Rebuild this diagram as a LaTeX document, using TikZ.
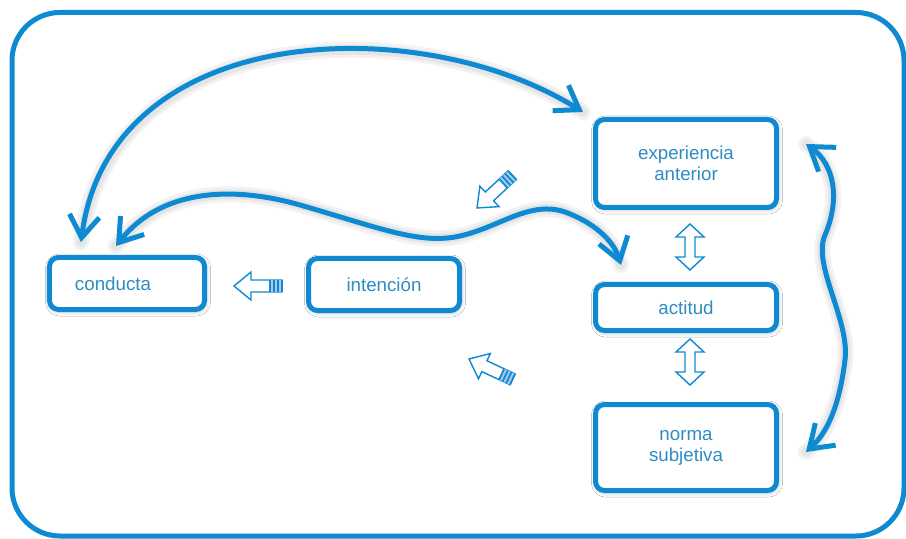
\documentclass[tikz,border=0pt]{standalone}
\usepackage{fontspec}
\setmainfont{Liberation Sans}
\usetikzlibrary{arrows.meta,shadows.blur}

\definecolor{lineblue}{RGB}{14,138,210}
\definecolor{textblue}{RGB}{46,140,196}
\definecolor{tailfill}{RGB}{172,200,236}

\tikzset{
  box/.style={draw=lineblue, line width=5bp, rounded corners=9bp, fill=white,
    inner sep=0pt, font=\fontsize{18.8}{21}\selectfont, text=textblue,
    blur shadow={shadow xshift=1bp, shadow yshift=-1.5bp,
      shadow blur radius=5bp, shadow opacity=30}},
  link/.style={draw=lineblue, line width=5bp,
    {Straight Barb[length=22bp,width=30bp]}-{Straight Barb[length=22bp,width=30bp]}},
  halo/.style={draw=black, opacity=0.05, line width=#1, line cap=round},
  frame/.style={draw=lineblue, line width=5bp, rounded corners=48bp},
  hollowline/.style={draw=lineblue, line width=1.4bp, line join=miter},
  pics/hollow/.style={code={
    \draw[hollowline, fill=white] (0,0) -- (-17,14) -- (-17,6) -- (-48,6)
      -- (-48,-6) -- (-17,-6) -- (-17,-14) -- cycle;
    \fill[tailfill] (-48,-6) rectangle (-36,6);
    \draw[lineblue, line width=1.8bp] (-36,-6) -- (-36,6) (-40,-6) -- (-40,6)
      (-44,-6) -- (-44,6) (-48,-6) -- (-48,6);
  }},
  pics/hollowdouble/.style={code={
    \draw[hollowline, fill=white] (23,0) -- (10,14) -- (10,5) -- (-10,5)
      -- (-10,14) -- (-23,0) -- (-10,-14) -- (-10,-5) -- (10,-5) -- (10,-14) -- cycle;
  }},
}

\begin{document}
\begin{tikzpicture}[x=1bp, y=-1bp]
  \useasboundingbox (0,0) rectangle (906,539);
  \fill[white] (0,0) rectangle (906,539);

  % outer frame
  \draw[frame] (12,12.5) rectangle (904,536);

  % end points of the curved connectors
  \coordinate (arcA) at (81,242);
  \coordinate (arcB) at (583,112);
  \coordinate (waveA) at (116,246);
  \coordinate (waveB) at (621,265);
  \coordinate (sideA) at (806,144);
  \coordinate (sideB) at (806,452);

  % soft halos under the curves
  \foreach \w in {16bp,10bp}{
    \draw[halo=\w] (arcA) .. controls (110,20) and (420,10) .. (arcB);
    \draw[halo=\w] (waveA) .. controls (160,190) and (230,185) .. (300,205)
      .. controls (380,228) and (420,245) .. (460,236)
      .. controls (500,227) and (530,200) .. (565,212)
      .. controls (600,225) and (615,245) .. (waveB);
    \draw[halo=\w] (sideA) .. controls (835,165) and (840,200) .. (825,235)
      .. controls (812,265) and (850,320) .. (845,360)
      .. controls (840,400) and (830,430) .. (sideB);
  }

  % boxes
  \node[box, minimum width=155bp, minimum height=52bp, text width=104bp, align=left]
    (conducta) at (127,283.5) {conducta};
  \node[box, minimum width=151bp, minimum height=52bp]
    (intencion) at (384,284.5) {intención};
  \node[box, minimum width=181bp, minimum height=88bp, align=center]
    (experiencia) at (686,163.5) {experiencia\\anterior};
  \node[box, minimum width=181bp, minimum height=46bp]
    (actitud) at (686,307.5) {actitud};
  \node[box, minimum width=181bp, minimum height=86bp, align=center]
    (norma) at (686,447.5) {norma\\subjetiva};

  % curved two-headed connectors
  \draw[link] (arcA) .. controls (110,20) and (420,10) .. (arcB);
  \draw[link] (waveA) .. controls (160,190) and (230,185) .. (300,205)
    .. controls (380,228) and (420,245) .. (460,236)
    .. controls (500,227) and (530,200) .. (565,212)
    .. controls (600,225) and (615,245) .. (waveB);
  \draw[link] (sideA) .. controls (835,165) and (840,200) .. (825,235)
    .. controls (812,265) and (850,320) .. (845,360)
    .. controls (840,400) and (830,430) .. (sideB);

  % hollow block arrows
  \pic[rotate=180] (toconducta) at (234,286) {hollow};
  \pic[rotate=223] (fromexp) at (477,208) {hollow};
  \pic[rotate=155] (fromnorma) at (469,359) {hollow};
  \pic[rotate=90] (expact) at (690,247) {hollowdouble};
  \pic[rotate=90] (actnorma) at (690,362) {hollowdouble};
\end{tikzpicture}
\end{document}
